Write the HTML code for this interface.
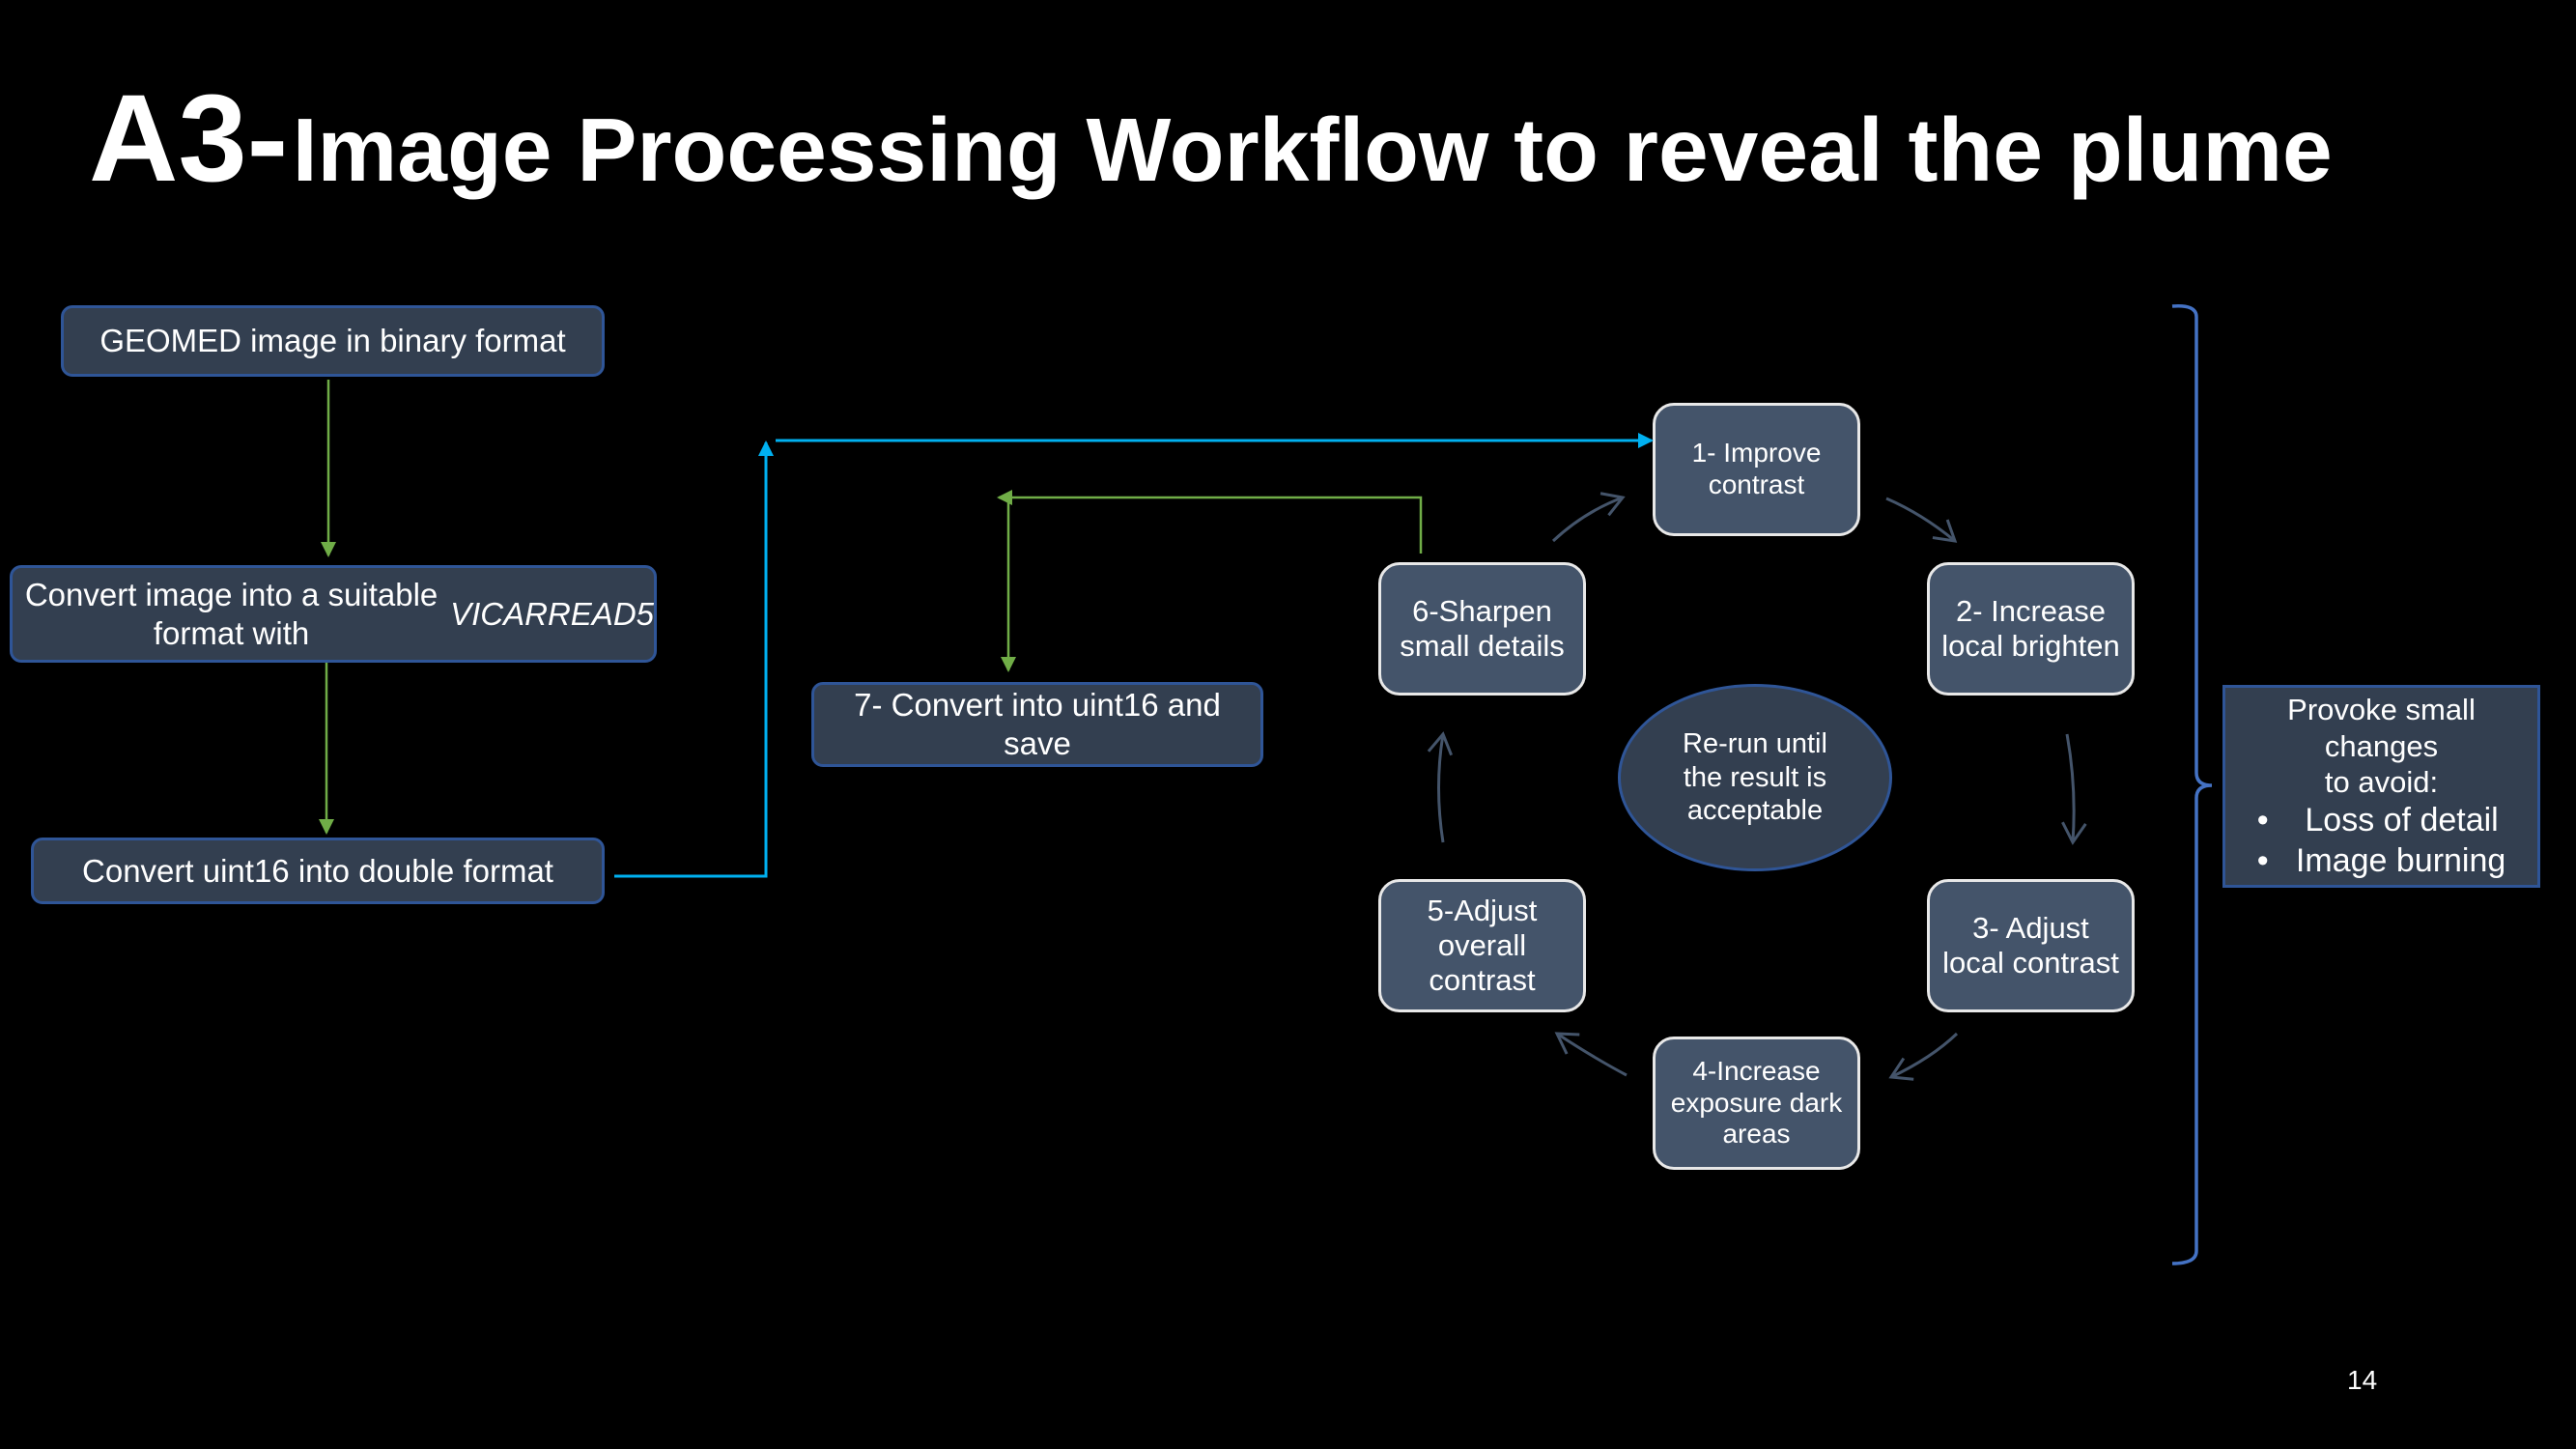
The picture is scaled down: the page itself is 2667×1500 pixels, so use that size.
<!DOCTYPE html>
<html><head><meta charset="utf-8"><style>
html,body{margin:0;padding:0;background:#000;}
body{width:2667px;height:1500px;position:relative;overflow:hidden;font-family:"Liberation Sans",sans-serif;color:#fff;}
.b{position:absolute;box-sizing:border-box;display:flex;align-items:center;justify-content:center;text-align:center;line-height:1.2;}
.l{background:#333f50;border:3px solid #2f5597;border-radius:12px;font-size:33px;}
.c{background:#44546a;border:3px solid #e8e8e8;border-radius:22px;font-size:28px;line-height:1.17;}
</style></head><body>
<div style="position:absolute;left:92px;top:70px;font-weight:bold;white-space:nowrap;"><span style="font-size:128px;">A3-</span> <span style="font-size:93px;">Image Processing Workflow to reveal the plume</span></div>

<div class="b l" style="left:63px;top:316px;width:563px;height:74px;">GEOMED image in binary format</div>
<div class="b l" style="left:10px;top:585px;width:670px;height:101px;">Convert image into a suitable format with<br><i>VICARREAD5</i></div>
<div class="b l" style="left:32px;top:867px;width:594px;height:69px;">Convert uint16 into double format</div>
<div class="b l" style="left:840px;top:706px;width:468px;height:88px;">7- Convert into uint16 and<br>save</div>

<div class="b c" style="left:1711px;top:417px;width:215px;height:138px;">1- Improve<br>contrast</div>
<div class="b c" style="left:1995px;top:582px;width:215px;height:138px;font-size:31px;">2- Increase<br>local brighten</div>
<div class="b c" style="left:1995px;top:910px;width:215px;height:138px;font-size:31px;">3- Adjust<br>local contrast</div>
<div class="b c" style="left:1711px;top:1073px;width:215px;height:138px;">4-Increase<br>exposure dark<br>areas</div>
<div class="b c" style="left:1427px;top:910px;width:215px;height:138px;font-size:31px;">5-Adjust<br>overall<br>contrast</div>
<div class="b c" style="left:1427px;top:582px;width:215px;height:138px;font-size:31px;">6-Sharpen<br>small details</div>
<div class="b" style="left:1675px;top:708px;width:284px;height:194px;border-radius:50%;background:#333f50;border:3px solid #2f5597;font-size:29px;">Re-run until<br>the result is<br>acceptable</div>

<div class="b" style="left:2301px;top:709px;width:329px;height:210px;background:#333f50;border:3px solid #2f5597;font-size:31px;flex-direction:column;line-height:1.22;">
<div>Provoke small<br>changes<br>to avoid:</div>
<div style="text-align:left;font-size:34px;">•&nbsp;&nbsp;&nbsp;&nbsp;Loss of detail<br>•&nbsp;&nbsp;&nbsp;Image burning</div>
</div>

<div style="position:absolute;left:2430px;top:1413px;font-size:28px;">14</div>

<svg width="2667" height="1500" style="position:absolute;left:0;top:0;" fill="none">
<defs>
<marker id="g" markerWidth="8" markerHeight="8" refX="7" refY="4" orient="auto" markerUnits="userSpaceOnUse" viewBox="0 0 8 8"><path d="M0,0 L8,4 L0,8z" fill="#70ad47"/></marker>
<marker id="gl" markerWidth="16" markerHeight="16" refX="14" refY="8" orient="auto" markerUnits="userSpaceOnUse"><path d="M0,0 L16,8 L0,16z" fill="#70ad47"/></marker>
<marker id="bl" markerWidth="16" markerHeight="16" refX="14" refY="8" orient="auto" markerUnits="userSpaceOnUse"><path d="M0,0 L16,8 L0,16z" fill="#00b0f0"/></marker>
<marker id="o" markerWidth="30" markerHeight="30" refX="22" refY="15" orient="auto" markerUnits="userSpaceOnUse"><path d="M2,3 L22,15 L2,27" stroke="#44546a" stroke-width="3" fill="none"/></marker>
</defs>
<g stroke="#70ad47" stroke-width="2.5">
<path d="M340,393 V575" marker-end="url(#gl)"/>
<path d="M338,686 V862" marker-end="url(#gl)"/>
<path d="M1471,573 V515 H1034" marker-end="url(#gl)"/>
<path d="M1044,515 V694" marker-end="url(#gl)"/>
</g>
<g stroke="#00b0f0" stroke-width="3">
<path d="M636,907 H793 V458" marker-end="url(#bl)"/>
<path d="M803,456 H1710" marker-end="url(#bl)"/>
</g>
<g stroke="#44546a" stroke-width="3">
<path d="M1608,560 Q1640,530 1680,515" marker-end="url(#o)"/>
<path d="M1953,516 Q1990,532 2024,560" marker-end="url(#o)"/>
<path d="M2140,760 Q2150,815 2146,872" marker-end="url(#o)"/>
<path d="M2026,1070 Q2000,1095 1958,1115" marker-end="url(#o)"/>
<path d="M1684,1113 Q1650,1095 1612,1070" marker-end="url(#o)"/>
<path d="M1494,872 Q1485,815 1494,760" marker-end="url(#o)"/>
</g>
<path d="M2249,317 Q2274,315 2274,328 V800 Q2274,813 2290,813 Q2274,813 2274,826 V1295 Q2274,1308 2249,1308" stroke="#4472c4" stroke-width="3.5"/>
</svg>
</body></html>
